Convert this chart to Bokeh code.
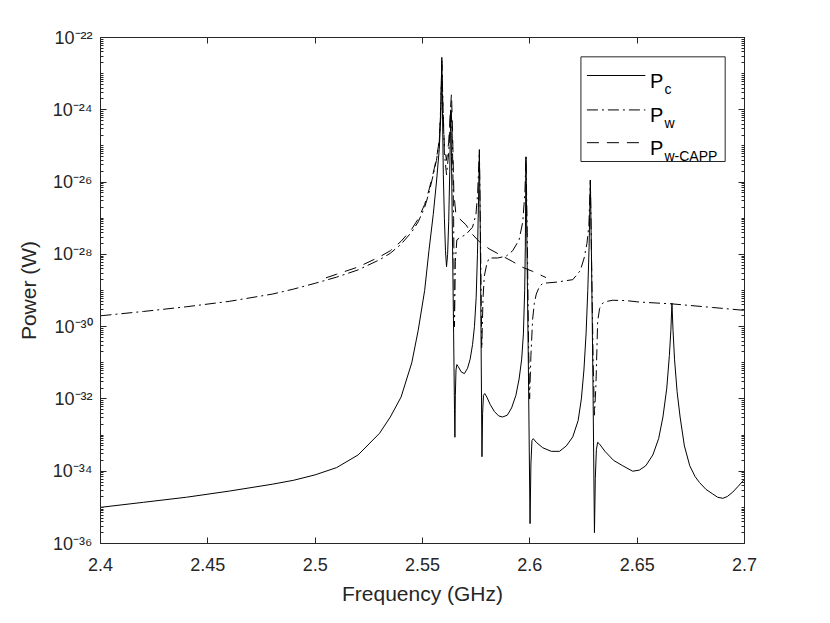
import numpy as np
from bokeh.plotting import figure
from bokeh.models import Range1d, FixedTicker, LinearAxis, LogAxis, BoxAnnotation, Label
from bokeh.embed import file_html
from bokeh.resources import INLINE

# ---------------- data (frequency in GHz, power as log10 of W) ----------------
freq_pc = [2.4000, 2.4200, 2.4400, 2.4600, 2.4800, 2.4900, 2.5000, 2.5100, 2.5200, 2.5300,
           2.5350, 2.5400, 2.5450, 2.5480, 2.5510, 2.5530, 2.5550, 2.5565, 2.5578, 2.5585,
           2.5590, 2.5593, 2.5597, 2.5602, 2.5607, 2.5612, 2.5617, 2.5622, 2.5627, 2.5630,
           2.5632, 2.5635, 2.5640, 2.5645, 2.5649, 2.5651, 2.5653, 2.5656, 2.5660, 2.5666,
           2.5680, 2.5695, 2.5710, 2.5722, 2.5733, 2.5742, 2.5750, 2.5756, 2.5761, 2.5765,
           2.5769, 2.5773, 2.5777, 2.5780, 2.5784, 2.5790, 2.5800, 2.5815, 2.5835, 2.5855,
           2.5873, 2.5895, 2.5915, 2.5935, 2.5950, 2.5962, 2.5970, 2.5976, 2.5979, 2.5982,
           2.5986, 2.5993, 2.6001, 2.6005, 2.6010, 2.6016, 2.6030, 2.6060, 2.6100, 2.6138,
           2.6170, 2.6200, 2.6225, 2.6240, 2.6252, 2.6262, 2.6270, 2.6276, 2.6282, 2.6287,
           2.6294, 2.6301, 2.6305, 2.6310, 2.6316, 2.6325, 2.6350, 2.6390, 2.6433, 2.6479,
           2.6510, 2.6540, 2.6573, 2.6600, 2.6620, 2.6638, 2.6650, 2.6657, 2.6662, 2.6667,
           2.6674, 2.6686, 2.6700, 2.6720, 2.6745, 2.6770, 2.6790, 2.6820, 2.6852, 2.6875,
           2.6899, 2.6920, 2.6945, 2.6970, 2.7000]
logp_pc = [-35.00, -34.86, -34.72, -34.55, -34.36, -34.25, -34.10, -33.90, -33.55, -32.95,
           -32.50, -31.95, -31.00, -30.10, -29.00, -27.90, -26.90, -26.00, -25.10, -24.20,
           -22.55, -24.00, -25.80, -27.00, -27.90, -28.34, -28.00, -27.10, -25.70, -24.60,
           -24.00, -25.30, -27.80, -30.20, -32.30, -33.06, -31.90, -31.20, -31.05, -31.10,
           -31.25, -31.30, -31.15, -30.90, -30.50, -30.00, -29.20, -28.00, -26.50, -25.15,
           -27.30, -30.50, -33.60, -32.40, -31.90, -31.85, -31.95, -32.15, -32.35, -32.47,
           -32.50, -32.45, -32.25, -31.90, -31.45, -30.90, -30.20, -29.00, -27.80, -25.30,
           -27.50, -31.00, -35.45, -33.80, -33.15, -33.10, -33.20, -33.35, -33.45, -33.45,
           -33.30, -33.05, -32.60, -32.00, -31.20, -30.20, -29.00, -27.80, -25.95, -28.00,
           -31.50, -35.70, -34.20, -33.40, -33.20, -33.25, -33.45, -33.70, -33.85, -34.00,
           -33.97, -33.85, -33.55, -33.10, -32.50, -31.70, -30.80, -30.10, -29.35, -30.10,
           -30.90, -31.80, -32.50, -33.30, -33.85, -34.15, -34.31, -34.50, -34.63, -34.72,
           -34.75, -34.70, -34.58, -34.42, -34.22]

freq_pw = [2.4000, 2.4200, 2.4400, 2.4600, 2.4800, 2.4900, 2.5000, 2.5100, 2.5200, 2.5300,
           2.5350, 2.5400, 2.5450, 2.5480, 2.5510, 2.5530, 2.5550, 2.5565, 2.5578, 2.5585,
           2.5590, 2.5595, 2.5602, 2.5612, 2.5622, 2.5633, 2.5639, 2.5645, 2.5649, 2.5653,
           2.5660, 2.5671, 2.5702, 2.5733, 2.5749, 2.5757, 2.5765, 2.5770, 2.5776, 2.5782,
           2.5788, 2.5800, 2.5811, 2.5850, 2.5890, 2.5920, 2.5950, 2.5967, 2.5977, 2.5982,
           2.5988, 2.5994, 2.5999, 2.6005, 2.6013, 2.6021, 2.6030, 2.6044, 2.6060, 2.6122,
           2.6200, 2.6235, 2.6253, 2.6266, 2.6275, 2.6282, 2.6288, 2.6295, 2.6301, 2.6308,
           2.6316, 2.6325, 2.6339, 2.6360, 2.6386, 2.6450, 2.6510, 2.6662, 2.6852, 2.7000]
logp_pw = [-29.70, -29.58, -29.45, -29.30, -29.10, -28.96, -28.80, -28.63, -28.43, -28.15,
           -27.97, -27.72, -27.38, -27.10, -26.70, -26.30, -25.80, -25.40, -24.90, -24.00,
           -22.65, -23.80, -25.20, -25.80, -25.20, -23.90, -24.80, -27.00, -30.00, -28.20,
           -27.60, -27.55, -27.45, -27.25, -26.90, -26.30, -25.10, -27.40, -30.60, -29.20,
           -28.60, -28.25, -28.10, -28.10, -28.05, -27.90, -27.60, -27.10, -26.30, -25.30,
           -27.40, -30.50, -32.00, -30.80, -29.80, -29.35, -29.10, -28.90, -28.80, -28.77,
           -28.70, -28.45, -28.10, -27.70, -27.20, -25.95, -28.30, -31.00, -32.45, -31.60,
           -29.85, -29.50, -29.35, -29.30, -29.27, -29.28, -29.32, -29.37, -29.47, -29.55]

freq_capp = [2.5050, 2.5100, 2.5200, 2.5300, 2.5350, 2.5400, 2.5450, 2.5480, 2.5510, 2.5530,
             2.5550, 2.5565, 2.5578, 2.5585, 2.5590, 2.5595, 2.5602, 2.5612, 2.5622, 2.5630,
             2.5635, 2.5640, 2.5646, 2.5655, 2.5670, 2.5702, 2.5733, 2.5765, 2.5811, 2.5873,
             2.5920, 2.5967, 2.6013, 2.6060, 2.6075]
logp_capp = [-28.65, -28.55, -28.35, -28.07, -27.90, -27.64, -27.30, -27.02, -26.62, -26.22,
             -25.75, -25.35, -24.85, -23.90, -22.75, -23.90, -25.00, -25.40, -24.90, -24.00,
             -23.55, -24.60, -26.30, -26.85, -27.00, -27.18, -27.45, -27.65, -27.85, -28.05,
             -28.20, -28.36, -28.47, -28.60, -28.64]

x_ticks = [2.4, 2.45, 2.5, 2.55, 2.6, 2.65, 2.7]
x_tick_labels = ["2.4", "2.45", "2.5", "2.55", "2.6", "2.65", "2.7"]
y_tick_exps = [-36, -34, -32, -30, -28, -26, -24, -22]
y_tick_labels = ["10\u207b\u00b3\u2076", "10\u207b\u00b3\u2074", "10\u207b\u00b3\u00b2", "10\u207b\u00b3\u2070",
                 "10\u207b\u00b2\u2078", "10\u207b\u00b2\u2076", "10\u207b\u00b2\u2074", "10\u207b\u00b2\u00b2"]

series_names = ["c", "w", "w-CAPP"]

# ---------------- styling ----------------
FONT = "Liberation Sans"
AXC = "#262626"

y_ticks = [10.0 ** e for e in y_tick_exps]
y_minor = [k * 10.0 ** e for e in range(-36, -22) for k in range(1, 10)
           if not (k == 1 and e in y_tick_exps)]

p = figure(width=814, height=607,
           x_range=Range1d(2.4, 2.7), y_range=Range1d(1e-36, 1e-22),
           y_axis_type="log", output_backend="svg", toolbar_location=None,
           min_border_left=100, min_border_right=70,
           min_border_top=37, min_border_bottom=64)
p.background_fill_color = "white"
p.border_fill_color = "white"
p.outline_line_color = AXC
p.grid.visible = False

# main axes
xa = p.xaxis[0]
xa.ticker = FixedTicker(ticks=x_ticks)
xa.major_label_overrides = {t: l for t, l in zip(x_ticks, x_tick_labels)}
xa.axis_label = "Frequency (GHz)"

ya = p.yaxis[0]
ya.ticker = FixedTicker(ticks=y_ticks, minor_ticks=y_minor)
ya.major_label_overrides = {t: l for t, l in zip(y_ticks, y_tick_labels)}
ya.axis_label = "Power (W)"

for ax in (xa, ya):
    ax.axis_line_color = AXC
    ax.major_tick_line_color = AXC
    ax.minor_tick_line_color = AXC
    ax.major_tick_in = 6
    ax.major_tick_out = 0
    ax.minor_tick_in = 3
    ax.minor_tick_out = 0
    ax.major_label_text_font = FONT
    ax.major_label_text_font_size = "18px"
    ax.major_label_text_color = AXC
    ax.axis_label_text_font = FONT
    ax.axis_label_text_font_size = "21px"
    ax.axis_label_text_font_style = "normal"
    ax.axis_label_text_color = AXC
xa.major_label_standoff = 14
xa.axis_label_standoff = 8
ya.major_label_standoff = 8
ya.axis_label_standoff = 10

# box axes (top / right) with inward ticks, no labels
top = LinearAxis(ticker=FixedTicker(ticks=x_ticks),
                 major_tick_in=6, major_tick_out=0, minor_tick_in=0, minor_tick_out=0,
                 major_label_text_alpha=0, major_label_text_color=None,
                 major_label_text_font_size="1px",
                 axis_line_color=AXC, major_tick_line_color=AXC)
p.add_layout(top, "above")
right = LogAxis(ticker=FixedTicker(ticks=y_ticks, minor_ticks=y_minor),
                major_tick_in=6, major_tick_out=0, minor_tick_in=3, minor_tick_out=0,
                major_label_text_alpha=0, major_label_text_color=None,
                major_label_text_font_size="1px",
                axis_line_color=AXC, major_tick_line_color=AXC, minor_tick_line_color=AXC)
p.add_layout(right, "right")

# ---------------- curves ----------------
dashes = ["solid", "11 4 2 4", "12 8"]
freqs = [freq_pc, freq_pw, freq_capp]
logs = [logp_pc, logp_pw, logp_capp]
for f, lg, d in zip(freqs, logs, dashes):
    p.line(f, np.power(10.0, np.array(lg)), line_color="black", line_width=1,
           line_dash=d, line_join="round")

# ---------------- legend (hand-built for subscripted labels) ----------------
leg_left, leg_right = 2.6238, 2.6910
leg_top, leg_bottom = -22.535, -25.431
p.add_layout(BoxAnnotation(left=leg_left, right=leg_right,
                           top=10 ** leg_top, bottom=10 ** leg_bottom,
                           fill_color="white", fill_alpha=1.0,
                           line_color=AXC, line_width=1, line_alpha=1.0))
row_line = [-23.051, -24.004, -24.910]
row_p = [-23.202, -24.155, -25.061]
row_sub = [-23.419, -24.372, -25.278]
seg_x0, seg_x1, p_x, sub_x = 2.6266, 2.6538, 2.6560, 2.6627
for i in range(3):
    p.line([seg_x0, seg_x1], [10 ** row_line[i]] * 2, line_color="black",
           line_width=1, line_dash=dashes[i], level="overlay")
    p.add_layout(Label(x=p_x, y=10 ** row_p[i], text="P", text_font=FONT,
                       text_font_size="20px", text_baseline="alphabetic",
                       text_align="left", text_color="black"))
    p.add_layout(Label(x=sub_x, y=10 ** row_sub[i], text=series_names[i], text_font=FONT,
                       text_font_size="14px", text_baseline="alphabetic",
                       text_align="left", text_color="black"))

open("out.html", "w").write(file_html(p, INLINE))
